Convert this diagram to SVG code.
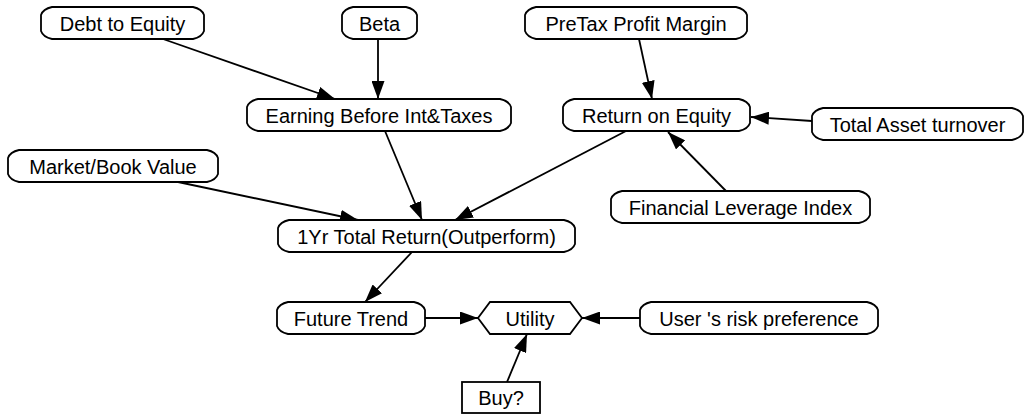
<svg xmlns="http://www.w3.org/2000/svg" width="1026" height="415" viewBox="0 0 1026 415">
  <style>
    .node { fill: #ffffff; stroke: #000000; stroke-width: 1.8; }
    .label { font-family: "Liberation Sans", Arial, sans-serif; font-size: 20px; fill: #000000; text-anchor: middle; }
    .edge { stroke: #000000; stroke-width: 1.8; fill: none; marker-end: url(#arrow); }
  </style>
  <defs>
    <marker id="arrow" markerUnits="userSpaceOnUse" markerWidth="18" markerHeight="13" refX="18" refY="6.5" orient="auto">
      <path d="M0,0 L18,6.5 L0,13 Z" fill="#000000"/>
    </marker>
  </defs>
  <rect width="1026" height="415" fill="#ffffff"/>

  <!-- connectors -->
  <g id="edges">
    <line class="edge" x1="163" y1="39" x2="335" y2="99"/>
    <line class="edge" x1="378" y1="39" x2="378" y2="99"/>
    <line class="edge" x1="639" y1="39" x2="652" y2="99"/>
    <line class="edge" x1="812" y1="121" x2="751" y2="117"/>
    <line class="edge" x1="726" y1="191" x2="668" y2="132"/>
    <line class="edge" x1="385" y1="131" x2="422" y2="220"/>
    <line class="edge" x1="178" y1="182" x2="358" y2="220"/>
    <line class="edge" x1="626" y1="131" x2="455" y2="220"/>
    <line class="edge" x1="412" y1="252" x2="365" y2="302"/>
    <line class="edge" x1="425" y1="318" x2="478" y2="318"/>
    <line class="edge" x1="640" y1="318" x2="582" y2="318"/>
    <line class="edge" x1="507" y1="382" x2="527" y2="334"/>
  </g>

  <g id="debt-to-equity">
    <path class="node" d="M52,7 H193 Q202,9 204,15 V31 Q202,37 193,39 H52 Q43,37 41,31 V15 Q43,9 52,7 Z"/>
    <text class="label" x="122.5" y="30.5">Debt to Equity</text>
  </g>
  <g id="beta">
    <path class="node" d="M353,7 H406 Q415,9 417,15 V31 Q415,37 406,39 H353 Q344,37 342,31 V15 Q344,9 353,7 Z"/>
    <text class="label" x="379.5" y="30.5">Beta</text>
  </g>
  <g id="pretax-profit-margin">
    <path class="node" d="M536,7 H736 Q745,9 747,15 V31 Q745,37 736,39 H536 Q527,37 525,31 V15 Q527,9 536,7 Z"/>
    <text class="label" x="636" y="30.5">PreTax Profit Margin</text>
  </g>
  <g id="earning-before-int-taxes">
    <path class="node" d="M258,99 H500 Q509,101 511,107 V123 Q509,129 500,131 H258 Q249,129 247,123 V107 Q249,101 258,99 Z"/>
    <text class="label" x="379" y="122.5">Earning Before Int&amp;Taxes</text>
  </g>
  <g id="return-on-equity">
    <path class="node" d="M574,99 H739 Q748,101 750,107 V123 Q748,129 739,131 H574 Q565,129 563,123 V107 Q565,101 574,99 Z"/>
    <text class="label" x="656.5" y="122.5">Return on Equity</text>
  </g>
  <g id="total-asset-turnover">
    <path class="node" d="M823,108 H1012 Q1021,110 1023,116 V132 Q1021,138 1012,140 H823 Q814,138 812,132 V116 Q814,110 823,108 Z"/>
    <text class="label" x="917.5" y="131.5">Total Asset turnover</text>
  </g>
  <g id="market-book-value">
    <path class="node" d="M19,150 H207 Q216,152 218,158 V174 Q216,180 207,182 H19 Q10,180 8,174 V158 Q10,152 19,150 Z"/>
    <text class="label" x="113" y="173.5">Market/Book Value</text>
  </g>
  <g id="financial-leverage-index">
    <path class="node" d="M622,191 H859 Q868,193 870,199 V215 Q868,221 859,223 H622 Q613,221 611,215 V199 Q613,193 622,191 Z"/>
    <text class="label" x="740.5" y="214.5">Financial Leverage Index</text>
  </g>
  <g id="one-year-total-return">
    <path class="node" d="M289,220 H564 Q573,222 575,228 V244 Q573,250 564,252 H289 Q280,250 278,244 V228 Q280,222 289,220 Z"/>
    <text class="label" x="426.5" y="243.5">1Yr Total Return(Outperform)</text>
  </g>
  <g id="future-trend">
    <path class="node" d="M288,302 H414 Q423,304 425,310 V326 Q423,332 414,334 H288 Q279,332 277,326 V310 Q279,304 288,302 Z"/>
    <text class="label" x="351" y="325.5">Future Trend</text>
  </g>
  <g id="utility">
    <path class="node" d="M490,302 H570 L582,318 L570,334 H490 L478,318 Z"/>
    <text class="label" x="530" y="325.5">Utility</text>
  </g>
  <g id="risk-preference">
    <path class="node" d="M651,302 H867 Q876,304 878,310 V326 Q876,332 867,334 H651 Q642,332 640,326 V310 Q642,304 651,302 Z"/>
    <text class="label" x="759" y="325.5">User 's risk preference</text>
  </g>
  <g id="buy">
    <rect class="node" x="462" y="382" width="78" height="31"/>
    <text class="label" x="501" y="405">Buy?</text>
  </g>
</svg>
